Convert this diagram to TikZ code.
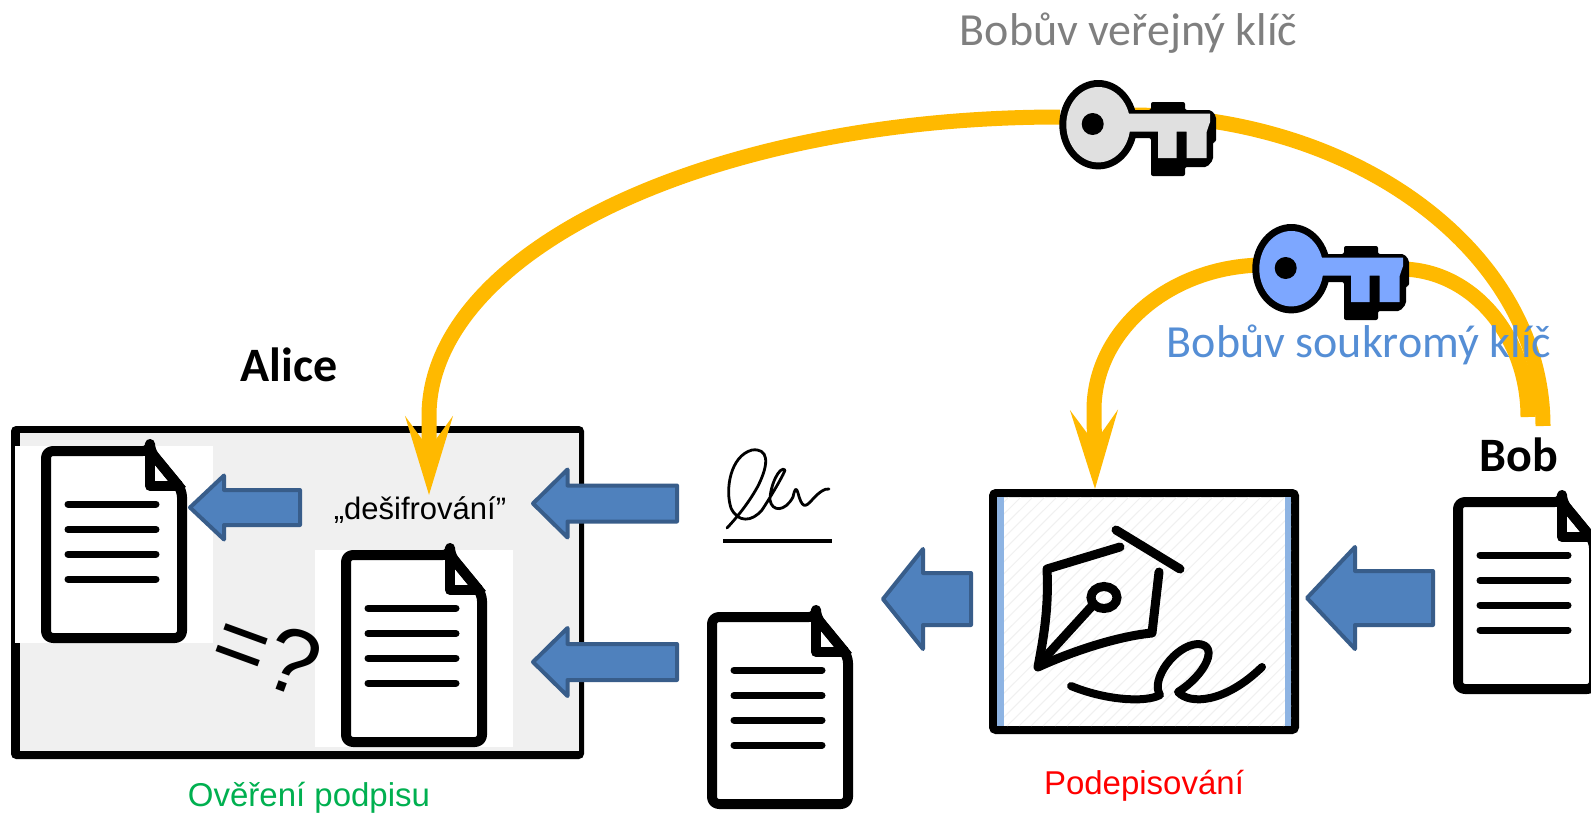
\documentclass[tikz,border=0pt]{standalone}
\usepackage{fontspec}
\setmainfont{Liberation Sans}
\newfontfamily\carlito{Carlito}
\usetikzlibrary{arrows.meta}
\definecolor{orangearc}{HTML}{FFB900}
\definecolor{arrowfill}{HTML}{4F81BD}
\definecolor{arrowline}{HTML}{385D8A}
\definecolor{boxgray}{HTML}{F0F0F0}
\definecolor{stripblue}{HTML}{8EB4E3}
\definecolor{keygray}{HTML}{E0E0E0}
\definecolor{keyblue}{HTML}{7DA7FF}
\definecolor{pubgray}{HTML}{7F7F7F}
\definecolor{privblue}{HTML}{558ED5}
\definecolor{verifygreen}{HTML}{00B050}
\tikzset{
  arcline/.style={draw=orangearc,line width=15pt},
  arctip/.style={-{Stealth[length=78pt,width=47pt,inset=32pt,fill=orangearc]}},
  blockarrow/.style={fill=arrowfill,draw=arrowline,line width=4pt,line join=round},
  penline/.style={draw=black,line width=9pt,line cap=round,line join=round},
  docline/.style={draw=black,line width=7pt,line cap=round},
  docframe/.style={draw=black,line width=10pt,fill=white,line join=round},
  sigline/.style={draw=black,line width=2.8pt,line cap=round,line join=round},
  txt/.style={inner sep=0pt,anchor=center}
}
\newcommand{\docicon}[2]{%
  \begin{scope}[shift={(#1,#2)}]
    \draw[docframe,rounded corners=7pt] (109,5) -- (109,5) -- (141,44) -- (141,192) -- (5,192) -- (5,5) -- cycle;
    \draw[black,line width=10pt,line join=round] (109,5) -- (109,40) -- (141,40);
    \draw[black,line width=10pt,line join=miter] (109,5) -- (141,44);
    \foreach \ly in {58,83.5,108,133} \draw[docline] (27,\ly) -- (115,\ly);
  \end{scope}}
\newcommand{\keyicon}[3]{%
  \begin{scope}[shift={(#1,#2)}]
    \fill[black,rounded corners=2pt] (1125,138) -- (1151,138) -- (1151,176) -- (1185,176) -- (1185,167) -- (1207,167) -- (1213,160) -- (1213,142) -- (1216,142) -- (1216,116) -- (1211,110) -- (1185,110) -- (1185,102) -- (1151,102) -- (1151,110) -- (1125,110) -- cycle;
    \fill[black] (1098.3,124.7) ellipse [x radius=39,y radius=44.7];
    \fill[#3] (1098.3,124.7) ellipse [x radius=32,y radius=37.7];
    \fill[#3] (1120,113.5) -- (1210,113.5) -- (1210,122) -- (1206.7,131.7) -- (1206.7,158) -- (1186.7,158) -- (1186.7,131.7) -- (1176.7,131.7) -- (1176.7,158) -- (1158,158) -- (1158,131.7) -- (1120,131.7) -- cycle;
    \fill[black] (1092.7,124) ellipse [x radius=11,y radius=11];
  \end{scope}}
\newcommand{\leftblock}[6]{% tip x, base x, end x, centre y, head half, shaft half
  \draw[blockarrow] (#1,#4) -- (#2,#4-#5) -- (#2,#4-#6) -- (#3,#4-#6) -- (#3,#4+#6) -- (#2,#4+#6) -- (#2,#4+#5) -- cycle;}
\begin{document}
\begin{tikzpicture}[x=1pt,y=-1pt]
\useasboundingbox (0,0) rectangle (1591,819);
\fill[white] (0,0) rectangle (1591,819);
% Alice box
\fill[black,rounded corners=5pt] (11,426) rectangle (584,759);
\fill[boxgray] (20,433) rectangle (579,751);
\node[txt,font=\carlito\bfseries\fontsize{48}{52}\selectfont] (alice) at (289,365) {Alice};
\node[txt,font=\carlito\bfseries\fontsize{48}{52}\selectfont] (bob) at (1519,455) {Bob};
% backdrops
\fill[white] (15,446) rectangle (213,643);
\fill[white] (315,550) rectangle (513,747);
% documents
\docicon{41}{446}
\docicon{341}{550}
\docicon{707}{612}
\begin{scope}
  \clip (0,0) rectangle (1591,819);
  \docicon{1453}{497}
\end{scope}
% signing box
\node[draw=black,line width=8pt,rounded corners=3pt,fill=white,minimum width=302pt,minimum height=237pt,inner sep=0pt,outer sep=0pt] (signbox) at (1144,611.5) {};
\begin{scope}
  \clip (997,497) rectangle (1291,726);
  \foreach \i in {0,12,...,600}
    \draw[boxgray,line width=1pt] (997+\i-230,726) -- (997+\i,497);
  \fill[stripblue] (997,497) rectangle (1004,726);
  \fill[stripblue] (1285,497) rectangle (1291,726);
\end{scope}
% pen nib
\draw[penline] (1120,547) -- (1047,569) .. controls (1049,610) and (1043,640) .. (1038,667) .. controls (1075,650) and (1120,636) .. (1152,633) -- (1159,572);
\draw[penline] (1116,530) -- (1180,569);
\draw[penline] (1040,663) -- (1092,606);
\draw[black,line width=9pt] (1104,597.5) ellipse [x radius=13,y radius=11];
% written loop
\draw[penline,line width=8pt] (1071,686) .. controls (1105,700) and (1145,703) .. (1160,695) .. controls (1150,680) and (1175,645) .. (1198,644) .. controls (1220,645) and (1205,675) .. (1178,692) .. controls (1190,705) and (1225,703) .. (1262,667);
% signature
\draw[sigline] (727,528) .. controls (742,512) and (752,497) .. (758,486) .. controls (770,462) and (768,448) .. (752,450) .. controls (730,456) and (725,490) .. (731,508) .. controls (738,523) and (752,522) .. (762,510) .. controls (772,495) and (785,472) .. (785,470) .. controls (780,465) and (770,485) .. (770,500) .. controls (772,512) and (785,512) .. (793,497) .. controls (795,488) and (796,487) .. (798,493) .. controls (802,508) and (805,508) .. (812,500) .. controls (818,493) and (825,488) .. (829,489);
\draw[black,line width=4pt] (723,541) -- (832,541);
% orange connectors
\coordinate (bigbob) at (1543,426);
\coordinate (bigtop) at (1130,115);
\coordinate (bigkey) at (1060,117);
\coordinate (bigvert) at (429,416);
\coordinate (bigtip) at (429,495);
\coordinate (smallbob) at (1528,417);
\coordinate (smalltop) at (1400,269);
\coordinate (smallkey) at (1265,265);
\coordinate (smallvert) at (1094,410);
\coordinate (smalltip) at (1095,489);
\draw[arcline] (bigbob) .. controls +(0,-172) and +(228,0) .. (bigtop);
\draw[arcline,arctip] (bigkey) .. controls +(-349,0) and +(0,-165) .. (bigvert) -- (bigtip);
\draw[arcline] (smallbob) .. controls +(0,-82) and +(71,0) .. (smalltop);
\draw[arcline,arctip] (smallkey) .. controls +(-94,0) and +(0,-80) .. (smallvert) -- (smalltip);
\keyicon{0}{0}{keygray}
\keyicon{193}{144}{keyblue}
% blue arrows
\leftblock{190}{224}{300}{507.5}{32}{17.5}
\leftblock{533}{567.5}{677}{503.5}{34}{18}
\leftblock{533}{567.5}{677}{662}{34}{18}
\leftblock{883}{923}{971}{599}{50}{26}
\leftblock{1307}{1355}{1433}{598}{51}{27}
% texts
\node[txt,font=\carlito\fontsize{46}{50}\selectfont,text=pubgray] (pubkey) at (1128.5,33) {Bobův veřejný klíč};
\node[txt,font=\carlito\fontsize{46}{50}\selectfont,text=privblue] (privkey) at (1359,345) {Bobův soukromý klíč};
\node[txt,font=\fontsize{31}{36}\selectfont] (decrypt) at (420,510) {„dešifrování”};
\node[txt,font=\fontsize{33}{38}\selectfont,text=verifygreen] (verify) at (309,798) {Ověření podpisu};
\node[txt,font=\fontsize{33}{38}\selectfont,text=red] (sign) at (1144,786) {Podepisování};
\node[txt,font=\fontsize{92}{100}\selectfont,rotate=-20] (cmp) at (267,652) {=?};
\end{tikzpicture}
\end{document}
